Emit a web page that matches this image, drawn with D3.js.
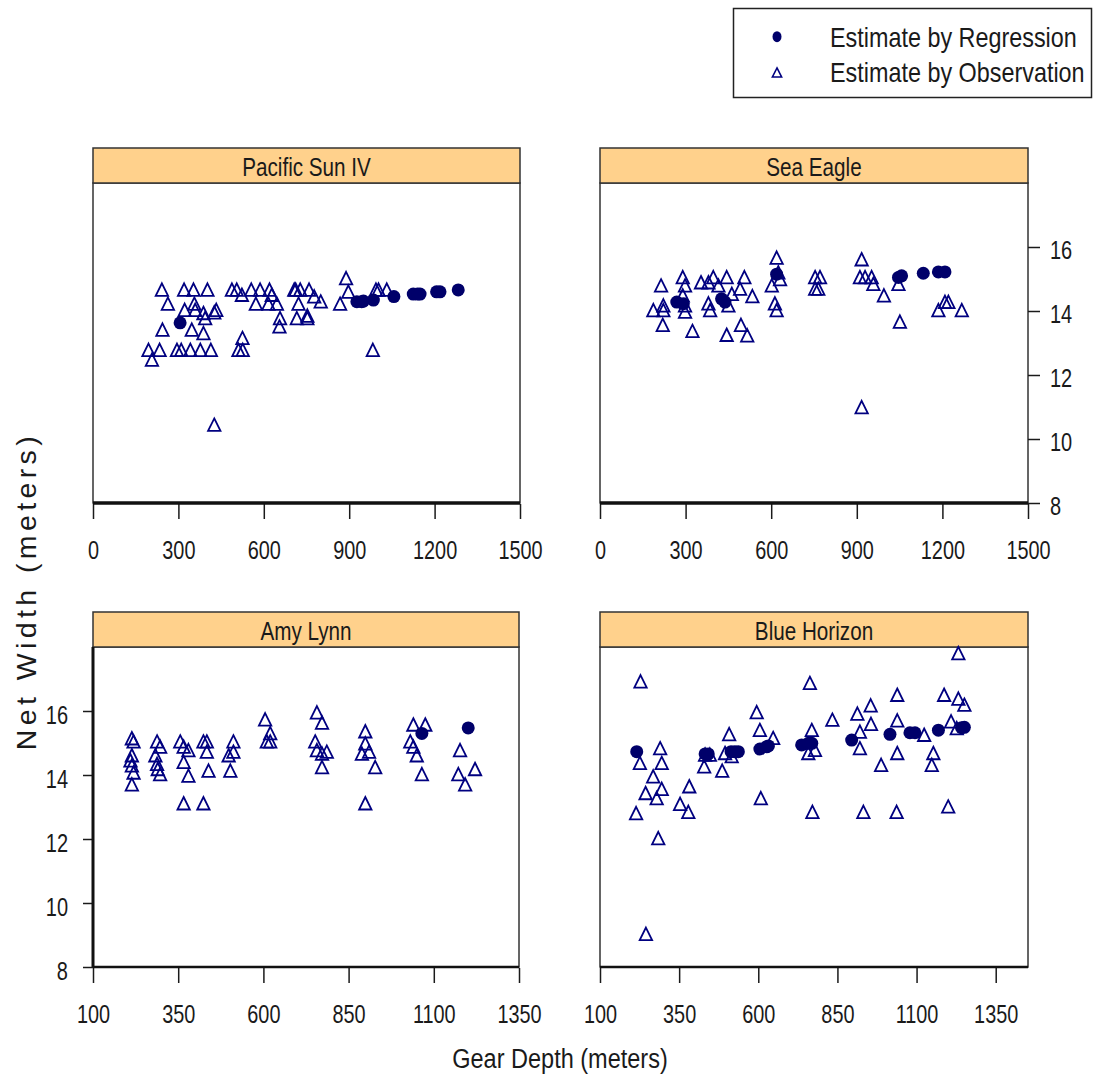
<!DOCTYPE html>
<html>
<head>
<meta charset="utf-8">
<script src="https://cdn.jsdelivr.net/npm/d3@7"></script>
<style>
  html, body { margin: 0; padding: 0; background: #fff; }
  svg { display: block; }
</style>
</head>
<body>
<svg id="chart" width="1094" height="1078"></svg>
<script>
// ---- data: [gear depth (m), net width (m)] ----
const panelNames = ["Pacific Sun IV", "Sea Eagle", "Amy Lynn", "Blue Horizon"];
const xTicksTop = [0, 300, 600, 900, 1200, 1500];
const xTicksBottom = [100, 350, 600, 850, 1100, 1350];
const yTicks = [8, 10, 12, 14, 16];
const legendLabels = ["Estimate by Regression", "Estimate by Observation"];

const pacificSunObs = [
  [242,14.66],[263,14.22],[320,14.66],[353,14.66],[402,14.66],
  [322,14.03],[356,14.22],[359,14.03],
  [244,13.41],[347,13.41],[388,13.93],[394,13.77],[388,13.30],
  [433,14.03],[426,13.95],
  [195,12.78],[207,12.47],[234,12.78],[295,12.78],[310,12.78],[342,12.78],[377,12.78],[414,12.78],
  [525,13.15],[511,12.78],[526,12.78],
  [426,10.44],
  [488,14.66],[505,14.66],[523,14.50],[556,14.66],[587,14.66],[620,14.66],[628,14.50],
  [572,14.22],[616,14.22],[646,14.22],
  [657,13.77],[655,13.51],
  [707,14.66],[712,14.66],[728,14.66],[759,14.66],[777,14.45],[800,14.29],
  [722,14.22],[716,13.77],[753,13.85],[753,13.77],
  [889,15.02],[897,14.60],[868,14.22],
  [983,12.78],
  [994,14.66],[1003,14.66],[1032,14.66]
];
const pacificSunReg = [
  [306,13.63],[927,14.29],[944,14.29],[950,14.31],[985,14.34],[1057,14.45],
  [1125,14.53],[1140,14.53],[1149,14.53],[1207,14.60],[1219,14.60],[1283,14.66]
];

const seaEagleObs = [
  [214,14.79],[187,14.02],[222,14.17],[222,14.02],[220,13.56],
  [290,15.05],[298,14.79],[290,14.48],[298,13.97],[298,14.17],
  [324,13.37],
  [354,14.89],[380,14.89],[397,15.05],[415,14.79],[444,15.05],[462,14.53],[491,14.69],[506,15.05],[534,14.46],
  [380,14.23],[386,14.02],[450,14.17],
  [444,13.25],[494,13.56],[516,13.23],
  [619,15.66],[625,15.20],[602,14.79],[631,14.99],[613,14.23],[619,14.02],
  [754,15.05],[771,15.05],[754,14.69],[765,14.69],
  [917,15.61],[911,15.05],[929,15.05],[952,15.05],[958,14.84],
  [995,14.48],[1051,13.66],[917,10.99],[1046,14.84],
  [1186,14.02],[1209,14.28],[1221,14.28],[1268,14.02]
];
const seaEagleReg = [
  [269,14.28],[292,14.23],[426,14.38],[438,14.28],[619,15.15],
  [1046,15.05],[1057,15.10],[1133,15.18],[1186,15.22],[1209,15.22]
];

const amyLynnObs = [
  [214,15.14],[219,15.04],[214,14.61],[210,14.45],[214,14.29],[219,14.07],[214,13.70],
  [288,15.04],[297,14.88],[283,14.61],[288,14.34],[290,14.18],[297,14.02],
  [356,15.04],[366,14.88],[380,14.77],[366,14.40],[380,13.97],[366,13.11],
  [424,15.04],[434,15.04],[434,14.72],[439,14.13],[424,13.11],
  [512,15.04],[512,14.72],[498,14.61],[503,14.13],
  [605,15.73],[620,15.30],[620,15.04],[610,15.04],
  [757,15.95],[772,15.63],[752,15.04],[757,14.77],[772,14.66],[786,14.72],[772,14.24],
  [899,15.36],[899,14.98],[889,14.66],[910,14.72],[928,14.24],[899,13.11],
  [1031,15.04],[1040,15.57],[1075,15.57],[1040,14.88],[1050,14.61],[1065,14.02],
  [1177,14.77],[1172,14.02],[1192,13.70],[1221,14.18]
];
const amyLynnReg = [[1065,15.30],[1201,15.47]];

const blueHorizonObs = [
  [228,16.92],[1232,17.80],
  [214,12.80],[284,12.02],[245,9.03],
  [226,14.37],[290,14.83],[295,14.37],[268,13.95],[244,13.43],[295,13.56],[279,13.27],
  [353,13.09],[379,12.84],[382,13.64],
  [432,14.63],[429,14.26],[447,14.63],[486,14.13],[508,15.27],[495,14.68],[516,14.58],
  [595,15.96],[605,15.40],[647,15.15],[608,13.27],
  [763,16.87],[769,15.40],[758,14.68],[779,14.78],[771,12.84],
  [834,15.72],[913,15.91],[955,16.17],[921,15.35],[956,15.59],[921,14.83],[988,14.31],[932,12.84],
  [1039,16.50],[1039,15.70],[1039,14.68],[1037,12.84],
  [1124,15.25],[1153,14.68],[1148,14.31],[1200,13.01],
  [1187,16.50],[1232,16.38],[1251,16.19],[1209,15.67],[1227,15.46]
];
const blueHorizonReg = [
  [216,14.73],[432,14.66],[442,14.66],[514,14.73],[526,14.73],[537,14.73],
  [605,14.81],[626,14.88],[632,14.91],[737,14.94],[758,14.99],[769,14.99],
  [895,15.09],[1016,15.27],[1079,15.32],[1095,15.32],[1169,15.40],[1242,15.48],[1251,15.49]
];

// ---- layout & style ----
const FONT = "'Liberation Sans', Arial, Helvetica, sans-serif";
const INK = "#1a1a1a";
const OBS_COLOR = "#000080";
const REG_COLOR = "#00006a";
const STRIP_FILL = "#ffd18c";

const panels = [
  { name: panelNames[0], obs: pacificSunObs, reg: pacificSunReg,
    x0: 93, x1: 520, top: 183, bottom: 503, xDomain: [0, 1500], xTicks: xTicksTop, yAxis: null },
  { name: panelNames[1], obs: seaEagleObs, reg: seaEagleReg,
    x0: 600, x1: 1028, top: 183, bottom: 503, xDomain: [0, 1500], xTicks: xTicksTop, yAxis: "right" },
  { name: panelNames[2], obs: amyLynnObs, reg: amyLynnReg,
    x0: 93, x1: 519, top: 647, bottom: 967, xDomain: [100, 1350], xTicks: xTicksBottom, yAxis: "left" },
  { name: panelNames[3], obs: blueHorizonObs, reg: blueHorizonReg,
    x0: 600, x1: 1028, top: 647, bottom: 967, xDomain: [100, 1452], xTicks: xTicksBottom, yAxis: null }
];
const STRIP_H = 35;

const svg = d3.select("#chart");

// horizontally condensed text helper
function label(parent, x, y, str, size, sx, anchor) {
  return parent.append("text")
    .attr("transform", `translate(${x},${y}) scale(${sx},1)`)
    .attr("text-anchor", anchor || "start")
    .attr("font-family", FONT)
    .attr("font-size", size)
    .attr("fill", INK)
    .text(str);
}

// condense axis tick labels about their own anchor
function condenseAxisText(g, sx, shiftY) {
  g.selectAll(".tick text").each(function () {
    const t = d3.select(this);
    const x = +t.attr("x") || 0;
    const y = +t.attr("y") || 0;
    t.attr("x", 0).attr("y", 0)
     .attr("transform", `translate(${x},${y + (shiftY || 0)}) scale(${sx},1)`);
  });
}

const triPath = "M0,-6.5L6.2,6L-6.2,6Z";

panels.forEach(p => {
  const x = d3.scaleLinear().domain(p.xDomain).range([p.x0, p.x1]);
  const y = d3.scaleLinear().domain([8, 18]).range([p.bottom, p.top]);
  const g = svg.append("g");

  // panel box
  g.append("rect")
    .attr("x", p.x0).attr("y", p.top)
    .attr("width", p.x1 - p.x0).attr("height", p.bottom - p.top)
    .attr("fill", "#fff").attr("stroke", "#333").attr("stroke-width", 1.5);

  // strip
  g.append("rect")
    .attr("x", p.x0).attr("y", p.top - STRIP_H)
    .attr("width", p.x1 - p.x0).attr("height", STRIP_H)
    .attr("fill", STRIP_FILL).attr("stroke", "#333").attr("stroke-width", 1.5);
  label(g, (p.x0 + p.x1) / 2, p.top - 7, p.name, 26.5, 0.78, "middle");

  // x axis
  const xa = g.append("g")
    .attr("transform", `translate(0,${p.bottom + 1})`)
    .call(d3.axisBottom(x).tickValues(p.xTicks).tickSize(15).tickPadding(21).tickFormat(d3.format("d")));
  xa.select(".domain").remove();
  xa.selectAll(".tick line").attr("stroke", INK).attr("stroke-width", 1.5);
  xa.selectAll(".tick text").attr("font-family", FONT).attr("font-size", 26.5).attr("fill", INK);
  condenseAxisText(xa, 0.75, 0);

  // heavy baseline along the axis side
  g.append("line")
    .attr("x1", p.x0).attr("x2", p.x1)
    .attr("y1", p.bottom).attr("y2", p.bottom)
    .attr("stroke", "#111").attr("stroke-width", p.top < 400 ? 3.5 : 2.5);

  // y axis
  if (p.yAxis === "right") {
    const ya = g.append("g")
      .attr("transform", `translate(${p.x1},0)`)
      .call(d3.axisRight(y).tickValues(yTicks).tickSize(12).tickPadding(10));
    ya.select(".domain").remove();
    ya.selectAll(".tick line").attr("stroke", INK).attr("stroke-width", 1.5);
    ya.selectAll(".tick text").attr("font-family", FONT).attr("font-size", 25).attr("fill", INK);
    condenseAxisText(ya, 0.8, 3);
  } else if (p.yAxis === "left") {
    const ya = g.append("g")
      .attr("transform", `translate(${p.x0},0)`)
      .call(d3.axisLeft(y).tickValues(yTicks).tickSize(10).tickPadding(15));
    ya.select(".domain").remove();
    ya.selectAll(".tick line").attr("stroke", INK).attr("stroke-width", 1.5);
    ya.selectAll(".tick text").attr("font-family", FONT).attr("font-size", 25).attr("fill", INK);
    condenseAxisText(ya, 0.8, 4);
    g.append("line")
      .attr("x1", p.x0).attr("x2", p.x0)
      .attr("y1", p.top).attr("y2", p.bottom)
      .attr("stroke", "#111").attr("stroke-width", 3);
  }

  // observed widths: open triangles
  g.append("g").selectAll("path")
    .data(p.obs).join("path")
    .attr("d", triPath)
    .attr("transform", d => `translate(${x(d[0])},${y(d[1])})`)
    .attr("fill", "none")
    .attr("stroke", OBS_COLOR)
    .attr("stroke-width", 1.8);

  // regression estimates: filled dots
  g.append("g").selectAll("circle")
    .data(p.reg).join("circle")
    .attr("cx", d => x(d[0]))
    .attr("cy", d => y(d[1]))
    .attr("r", 6.5)
    .attr("fill", REG_COLOR);
});

// axis titles
label(svg, 560, 1068, "Gear Depth (meters)", 28, 0.84, "middle");
svg.append("text")
  .attr("transform", "translate(36,591) rotate(-90)")
  .attr("text-anchor", "middle")
  .attr("font-family", FONT)
  .attr("font-size", 28.5)
  .attr("letter-spacing", 4.4)
  .attr("fill", INK)
  .text("Net Width (meters)");

// legend
const lg = svg.append("g");
lg.append("rect")
  .attr("x", 733.5).attr("y", 8.5).attr("width", 358).attr("height", 89)
  .attr("fill", "#fff").attr("stroke", "#222").attr("stroke-width", 1.5);
lg.append("ellipse").attr("cx", 777).attr("cy", 36.7).attr("rx", 4.5).attr("ry", 5.5).attr("fill", REG_COLOR);
lg.append("path").attr("d", "M0,-4.8L4.6,4.3L-4.6,4.3Z")
  .attr("transform", "translate(777,72.7)")
  .attr("fill", "none").attr("stroke", OBS_COLOR).attr("stroke-width", 1.6);
label(lg, 830, 46.7, legendLabels[0], 28, 0.835, "start");
label(lg, 830, 81.7, legendLabels[1], 28, 0.835, "start");
</script>
</body>
</html>
